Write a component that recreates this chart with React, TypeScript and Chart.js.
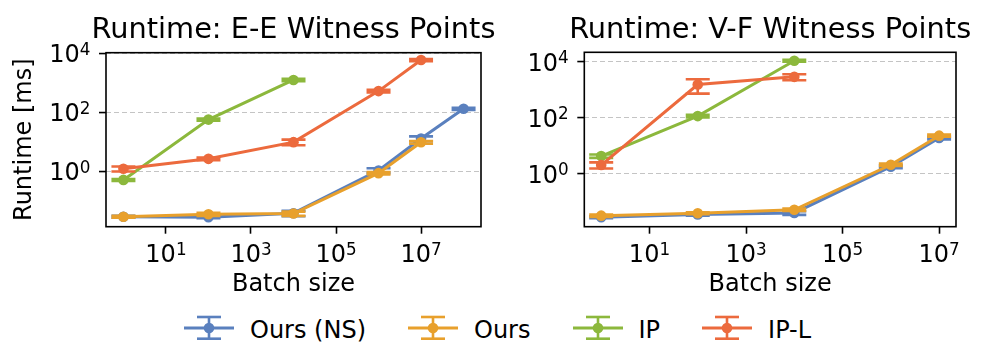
import React, { useEffect, useRef } from "react";
import { Chart, registerables } from "chart.js";

Chart.register(...registerables);

const FONT_FAMILY = "'DejaVu Sans', 'Liberation Sans', sans-serif";

// ---------- series ----------
const seriesNames = ["Ours (NS)", "Ours", "IP", "IP-L"];
const seriesColors = ["#5a80be", "#e8a02c", "#8cb83c", "#ec6a3d"];

// ---------- panel 1: E-E witness points ----------
const eeTitle = "Runtime: E-E Witness Points";
const eeOursNSBatch = [1, 100, 1e4, 1e6, 1e7, 1e8];
const eeOursNSTime = [0.028, 0.027, 0.037, 1.05, 12.7, 130];
const eeOursNSErr = [0.002, 0.002, 0.008, 0.2, 2.4, 10];
const eeOursBatch = [1, 100, 1e4, 1e6, 1e7];
const eeOursTime = [0.028, 0.034, 0.036, 0.85, 9.5];
const eeOursErr = [0.002, 0.004, 0.006, 0.08, 1.0];
const eeIPBatch = [1, 100, 1e4];
const eeIPTime = [0.5, 56, 1240];
const eeIPErr = [0.04, 5, 120];
const eeIPLBatch = [1, 100, 1e4, 1e6, 1e7];
const eeIPLTime = [1.2, 2.6, 9.6, 520, 5900];
const eeIPLErr = [0.23, 0.25, 2.1, 50, 500];
const eeXLimits = [10 ** -0.41, 10 ** 8.41];
const eeYLimits = [10 ** -1.89, 10 ** 4.02];

// ---------- panel 2: V-F witness points ----------
const vfTitle = "Runtime: V-F Witness Points";
const vfOursNSBatch = [1, 100, 1e4, 1e6, 1e7];
const vfOursNSTime = [0.028, 0.035, 0.04, 1.8, 19];
const vfOursNSErr = [0.002, 0.003, 0.006, 0.2, 2];
const vfOursBatch = [1, 100, 1e4, 1e6, 1e7];
const vfOursTime = [0.032, 0.039, 0.052, 2.1, 23];
const vfOursErr = [0.003, 0.003, 0.005, 0.2, 2];
const vfIPBatch = [1, 100, 1e4];
const vfIPTime = [4.3, 115, 10900];
const vfIPErr = [0.6, 12, 800];
const vfIPLBatch = [1, 100, 1e4];
const vfIPLTime = [2.05, 1550, 2900];
const vfIPLErr = [0.5, 820, 700];
const vfXLimits = [10 ** -0.35, 10 ** 7.35];
const vfYLimits = [10 ** -1.89, 10 ** 4.34];

// ---------- axes ----------
const xTickValues = [10, 1000, 1e5, 1e7];
const xTickLabels = ["10^1", "10^3", "10^5", "10^7"];
const yTickValues = [1, 100, 1e4];
const yTickLabels = ["10^0", "10^2", "10^4"];
const xAxisTitle = "Batch size";
const yAxisTitle = "Runtime [ms]";

// ---------- layout / style ----------
const CANVAS_H = 305;
const CAP = 12;
const TICK_FONT = 24;
const SUP_FONT = 16.8;
const SUP_RAISE = 7.3;

type Series = { batch: number[]; time: number[]; err: number[] };
type PanelCfg = {
  title: string;
  series: Series[];
  xLim: number[];
  yLim: number[];
  showYTitle: boolean;
  width: number;
  areaLeft: number;
  areaRight: number;
  areaTop: number;
  areaBottom: number;
};

const errorBarPlugin = {
  id: "errorBars",
  afterDatasetDraw(chart: any, args: any) {
    const ds = chart.data.datasets[args.index];
    const errs: number[] | undefined = ds.errors;
    if (!errs) return;
    const yScale = chart.scales.y;
    const ctx = chart.ctx;
    ctx.save();
    ctx.strokeStyle = ds.borderColor;
    ctx.lineWidth = 2.6;
    args.meta.data.forEach((pt: any, i: number) => {
      const v = ds.data[i].y;
      const e = errs[i];
      const yTop = yScale.getPixelForValue(v + e);
      const yBot = yScale.getPixelForValue(Math.max(v - e, 1e-9));
      const x = pt.x;
      ctx.beginPath();
      ctx.moveTo(x, yTop);
      ctx.lineTo(x, yBot);
      ctx.moveTo(x - CAP, yTop);
      ctx.lineTo(x + CAP, yTop);
      ctx.moveTo(x - CAP, yBot);
      ctx.lineTo(x + CAP, yBot);
      ctx.stroke();
    });
    ctx.restore();
  },
};

const framePlugin = {
  id: "frame",
  afterDatasetsDraw(chart: any) {
    const { ctx, chartArea } = chart;
    ctx.save();
    ctx.strokeStyle = "#000";
    ctx.lineWidth = 1.6;
    ctx.strokeRect(
      chartArea.left,
      chartArea.top,
      chartArea.right - chartArea.left,
      chartArea.bottom - chartArea.top
    );
    ctx.restore();
  },
};

// power-of-ten tick labels (base + raised exponent), placed from the scales
function drawPowerLabel(ctx: any, label: string, x: number, baseline: number, align: string) {
  const [base, exp] = label.split("^");
  ctx.font = `${TICK_FONT}px ${FONT_FAMILY}`;
  const wb = ctx.measureText(base).width;
  ctx.font = `${SUP_FONT}px ${FONT_FAMILY}`;
  const we = ctx.measureText(exp).width;
  const total = wb + we;
  const x0 = align === "right" ? x - total : x - total / 2;
  ctx.textAlign = "left";
  ctx.textBaseline = "alphabetic";
  ctx.fillStyle = "#000";
  ctx.font = `${TICK_FONT}px ${FONT_FAMILY}`;
  ctx.fillText(base, x0, baseline);
  ctx.font = `${SUP_FONT}px ${FONT_FAMILY}`;
  ctx.fillText(exp, x0 + wb, baseline - SUP_RAISE);
}

const powerTicksPlugin = {
  id: "powerTicks",
  afterDraw(chart: any) {
    const { ctx, chartArea } = chart;
    const xs = chart.scales.x;
    const ys = chart.scales.y;
    ctx.save();
    xs.ticks.forEach((t: any) => {
      const i = xTickValues.indexOf(t.value);
      if (i < 0) return;
      drawPowerLabel(ctx, xTickLabels[i], xs.getPixelForValue(t.value), chartArea.bottom + 35.6, "center");
    });
    ys.ticks.forEach((t: any) => {
      const i = yTickValues.indexOf(t.value);
      if (i < 0) return;
      drawPowerLabel(ctx, yTickLabels[i], chartArea.left - 15.6, ys.getPixelForValue(t.value) + 8.75, "right");
    });
    ctx.restore();
  },
};

const panelTitlePlugin = {
  id: "panelTitle",
  afterDraw(chart: any, _args: any, opts: any) {
    const { ctx, chartArea } = chart;
    ctx.save();
    ctx.font = `28.8px ${FONT_FAMILY}`;
    ctx.fillStyle = "#000";
    ctx.textAlign = "center";
    ctx.textBaseline = "alphabetic";
    ctx.fillText(opts.text, (chartArea.left + chartArea.right) / 2, chartArea.top - 14.4);
    ctx.restore();
  },
};

function buildConfig(p: PanelCfg): any {
  const datasets = p.series.map((s, i) => ({
    label: seriesNames[i],
    data: s.batch.map((b, j) => ({ x: b, y: s.time[j] })),
    errors: s.err,
    borderColor: seriesColors[i],
    backgroundColor: seriesColors[i],
    pointBackgroundColor: seriesColors[i],
    pointBorderWidth: 0,
    pointRadius: 5.3,
    borderWidth: 3,
    order: 3 - i,
    tension: 0,
  }));
  const labelFont = { family: FONT_FAMILY, size: 24 };
  return {
    type: "line",
    data: { datasets },
    plugins: [errorBarPlugin, framePlugin, powerTicksPlugin, panelTitlePlugin],
    options: {
      responsive: false,
      maintainAspectRatio: false,
      animation: false,
      devicePixelRatio: 1,
      layout: {
        padding: { left: 0, right: p.width - p.areaRight, top: p.areaTop, bottom: 0 },
      },
      plugins: {
        legend: { display: false },
        tooltip: { enabled: false },
        title: { display: false },
        panelTitle: { text: p.title },
      },
      scales: {
        x: {
          type: "logarithmic",
          position: "bottom",
          min: p.xLim[0],
          max: p.xLim[1],
          bounds: "data",
          afterBuildTicks: (s: any) => {
            s.ticks = xTickValues.map((v) => ({ value: v }));
          },
          afterFit: (s: any) => {
            s.height = CANVAS_H - p.areaBottom;
          },
          ticks: { display: false, autoSkip: false, maxRotation: 0 },
          grid: {
            display: true,
            drawOnChartArea: false,
            drawTicks: true,
            tickLength: 7,
            tickWidth: 1.6,
            tickColor: "#000",
            color: "transparent",
          },
          border: { display: false },
          title: {
            display: true,
            text: xAxisTitle,
            font: labelFont,
            color: "#000",
            padding: { top: 0, bottom: 5.6 },
          },
        },
        y: {
          type: "logarithmic",
          position: "left",
          min: p.yLim[0],
          max: p.yLim[1],
          bounds: "data",
          afterBuildTicks: (s: any) => {
            s.ticks = yTickValues.map((v) => ({ value: v }));
          },
          afterFit: (s: any) => {
            s.width = p.areaLeft;
          },
          ticks: { display: false, autoSkip: false },
          grid: {
            display: true,
            drawOnChartArea: true,
            drawTicks: true,
            tickLength: 7,
            tickWidth: 1.6,
            tickColor: "#000",
            color: "#c4c4c4",
            lineWidth: 1.1,
          },
          border: { display: false, dash: [5, 3] },
          title: {
            display: p.showYTitle,
            text: yAxisTitle,
            font: labelFont,
            color: "#000",
            padding: { top: 10.6, bottom: 0 },
          },
        },
      },
    },
  };
}

const eePanel: PanelCfg = {
  title: eeTitle,
  series: [
    { batch: eeOursNSBatch, time: eeOursNSTime, err: eeOursNSErr },
    { batch: eeOursBatch, time: eeOursTime, err: eeOursErr },
    { batch: eeIPBatch, time: eeIPTime, err: eeIPErr },
    { batch: eeIPLBatch, time: eeIPLTime, err: eeIPLErr },
  ],
  xLim: eeXLimits,
  yLim: eeYLimits,
  showYTitle: true,
  width: 500,
  areaLeft: 106,
  areaRight: 481,
  areaTop: 52.7,
  areaBottom: 226.7,
};

const vfPanel: PanelCfg = {
  title: vfTitle,
  series: [
    { batch: vfOursNSBatch, time: vfOursNSTime, err: vfOursNSErr },
    { batch: vfOursBatch, time: vfOursTime, err: vfOursErr },
    { batch: vfIPBatch, time: vfIPTime, err: vfIPErr },
    { batch: vfIPLBatch, time: vfIPLTime, err: vfIPLErr },
  ],
  xLim: vfXLimits,
  yLim: vfYLimits,
  showYTitle: false,
  width: 496,
  areaLeft: 84.3,
  areaRight: 456,
  areaTop: 52.3,
  areaBottom: 226.7,
};

function PanelChart({ cfg, left }: { cfg: PanelCfg; left: number }) {
  const ref = useRef<HTMLCanvasElement>(null);
  useEffect(() => {
    const chart = new Chart(ref.current as HTMLCanvasElement, buildConfig(cfg));
    return () => chart.destroy();
  }, [cfg]);
  return (
    <canvas
      ref={ref}
      width={cfg.width}
      height={CANVAS_H}
      style={{ position: "absolute", left, top: 0, width: cfg.width, height: CANVAS_H, display: "block" }}
    />
  );
}

function LegendIcon({ color }: { color: string }) {
  return (
    <svg width={50} height={36} style={{ display: "block", overflow: "visible", flex: "0 0 auto" }}>
      <line x1={0} y1={18} x2={50} y2={18} stroke={color} strokeWidth={3} />
      <line x1={25} y1={7} x2={25} y2={28.7} stroke={color} strokeWidth={2.6} />
      <line x1={25 - CAP} y1={7} x2={25 + CAP} y2={7} stroke={color} strokeWidth={2.6} />
      <line x1={25 - CAP} y1={28.7} x2={25 + CAP} y2={28.7} stroke={color} strokeWidth={2.6} />
      <circle cx={25} cy={18} r={5.3} fill={color} />
    </svg>
  );
}

function Legend() {
  return (
    <div
      style={{
        position: "absolute",
        left: 184,
        top: 310,
        height: 36,
        display: "flex",
        alignItems: "flex-start",
        fontFamily: FONT_FAMILY,
        fontSize: 24,
        color: "#000",
      }}
    >
      {seriesNames.map((name, i) => (
        <div
          key={name}
          style={{ display: "flex", alignItems: "flex-start", marginRight: i < seriesNames.length - 1 ? 42 : 0 }}
        >
          <LegendIcon color={seriesColors[i]} />
          <span style={{ marginLeft: 16, marginTop: 7.7, lineHeight: "24px", whiteSpace: "nowrap" }}>{name}</span>
        </div>
      ))}
    </div>
  );
}

export default function App() {
  return (
    <div
      style={{
        position: "absolute",
        left: 0,
        top: 0,
        width: 996,
        height: 360,
        background: "#fff",
        overflow: "hidden",
      }}
    >
      <PanelChart cfg={eePanel} left={0} />
      <PanelChart cfg={vfPanel} left={500} />
      <Legend />
    </div>
  );
}
